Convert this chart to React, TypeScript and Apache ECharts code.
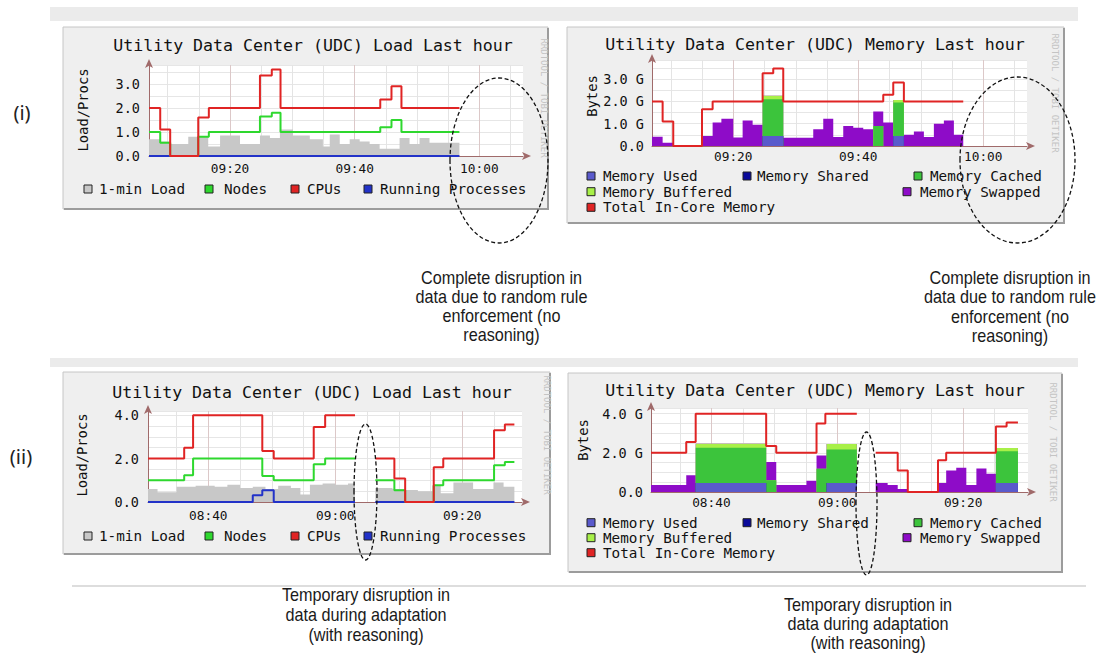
import React, { useEffect, useRef } from 'react';
import * as echarts from 'echarts';

// ================= DATA =================
// (i) Load Last hour — x in minutes after 09:00
const loadTimesI = [7, 8.8, 10.4, 14.9, 16.6, 24.8, 26.7, 28.1, 44.1, 45.9, 47.5, 56.8];
const cpusI = [2.0, 1.1, 0, 1.6, 2.0, 3.35, 3.6, 2.0, 2.35, 2.9, 2.0, 2.0];
const nodesI = [1.0, 0.55, 0, 0.8, 1.0, 1.65, 1.8, 1.0, 1.2, 1.5, 1.0, 1.0];
const procTimesI = [7, 56.8];
const procsI = [0, 0];
const oneMinTimesI = [7, 8.8, 10.4, 13.3, 16.5, 18.4, 21.6, 24.8, 26.4, 28, 30.1, 32.8, 34.9, 36, 37.6, 39.2, 40.8, 42.4, 44, 47.2, 48.8, 50.4, 52, 56.8];
const oneMinI = [0.7, 0.6, 0.5, 0.8, 0.4, 0.85, 0.5, 0.85, 0.75, 1.1, 0.85, 0.7, 0.4, 0.9, 0.5, 0.7, 0.6, 0.5, 0.3, 0.75, 0.5, 0.75, 0.55, 0.55];

// (i) Memory Last hour — x in minutes after 09:00, values in GB
const memTimesI = [7, 8.7, 10.4, 15, 16.7, 18.1, 20, 21.5, 23.1, 24.7, 28, 32.8, 34.4, 36, 37.6, 39.2, 40.8, 42.4, 44, 45.6, 47.3, 48.9, 50.5, 52.1, 53.7, 55.3, 56.8];
const memUsedI = [0, 0, 0, 0, 0, 0, 0, 0, 0, 0.45, 0, 0, 0, 0, 0, 0, 0, 0, 0, 0.45, 0, 0, 0, 0, 0, 0, 0];
const memSharedI = [0, 0, 0, 0, 0, 0, 0, 0, 0, 0, 0, 0, 0, 0, 0, 0, 0, 0, 0, 0, 0, 0, 0, 0, 0, 0, 0];
const memCachedI = [0, 0, 0, 0, 0, 0, 0, 0, 0, 1.65, 0, 0, 0, 0, 0, 0, 0, 0.9, 0, 1.5, 0, 0, 0, 0, 0, 0, 0];
const memBufferedI = [0, 0, 0, 0, 0, 0, 0, 0, 0, 0.15, 0, 0, 0, 0, 0, 0, 0, 0, 0, 0.12, 0, 0, 0, 0, 0, 0, 0];
const memSwappedI = [0.42, 0.15, 0, 0.45, 1.05, 1.22, 0.38, 1.15, 0.95, 0, 0.37, 0.75, 1.22, 0.4, 0.9, 0.82, 0.75, 0.65, 1.05, 0, 0.5, 0.65, 0.4, 1.0, 1.15, 0.5, 0.5];
const totalTimesI = [7, 8.7, 10.4, 15, 16.7, 24.7, 26.4, 28, 44, 45.6, 47.3, 56.8];
const totalI = [2.0, 1.1, 0, 1.65, 2.0, 3.27, 3.48, 2.0, 2.3, 2.85, 2.0, 2.0];

// (ii) Load Last hour — x in minutes after 08:00 (null = missing data)
const loadTimesII = [30.5, 36.2, 37.6, 48.5, 50.3, 56.6, 58.4, 63.1, 63.1, 66.3, 69.3, 71, 75.5, 77, 85, 86.7, 88.2];
const cpusII = [2.0, 2.5, 4.0, 2.35, 2.0, 3.45, 4.0, 4.0, null, 2.0, 1.08, 0, 1.6, 2.0, 3.3, 3.57, 3.57];
const nodesII = [1.0, 1.23, 2.0, 1.2, 1.0, 1.74, 2.0, 2.0, null, 1.0, 0.54, 0, 0.77, 1.0, 1.69, 1.84, 1.84];
const procTimesII = [30.5, 47, 48.5, 50.3, 63.1, 63.1, 66.3, 88.2];
const procsII = [0, 0.31, 0.54, 0, 0, null, 0, 0];
const oneMinTimesII = [30.5, 32, 35, 38, 41, 43, 45, 47, 49, 51, 53, 54.5, 56, 58, 60, 62, 63.1, 63.1, 66.3, 69, 71, 73, 75.3, 76.6, 78.6, 81.7, 84.9, 86.5, 88.2];
const oneMinII = [0.6, 0.45, 0.7, 0.75, 0.7, 0.8, 0.65, 0.7, 0.6, 0.75, 0.65, 0.35, 0.8, 0.85, 0.8, 0.85, 0.85, null, 0.65, 0.6, 0.55, 0.5, 0.75, 0.4, 0.9, 0.6, 0.9, 0.7, 0.7];

// (ii) Memory Last hour — x in minutes after 08:00
const memTimesII = [30.4, 36, 37.5, 48.7, 50.3, 55.1, 56.7, 58.3, 63.1, 63.1, 66.1, 68, 69.6, 71.2, 76, 77.3, 78.9, 80.5, 82.1, 83.7, 85.2, 88.7];
const memUsedII = [0, 0, 0.46, 0, 0, 0, 0, 0.46, 0.46, null, 0, 0, 0, 0, 0, 0, 0, 0, 0, 0, 0.46, 0.46];
const memSharedII = [0, 0, 0, 0, 0, 0, 0, 0, 0, null, 0, 0, 0, 0, 0, 0, 0, 0, 0, 0, 0, 0];
const memCachedII = [0, 0, 1.8, 0.6, 0, 0, 1.19, 1.71, 1.71, null, 0, 0, 0, 0, 0, 0, 0, 0, 0, 0, 1.62, 1.62];
const memBufferedII = [0, 0, 0.21, 0, 0, 0, 0, 0.28, 0.28, null, 0, 0, 0, 0, 0, 0, 0, 0, 0, 0, 0.17, 0.17];
const memSwappedII = [0.36, 0.85, 0, 0.93, 0.36, 0.58, 0.68, 0, 0, null, 0.46, 0.36, 0.15, 0, 0.46, 1.1, 1.24, 0.36, 1.2, 0.93, 0, 0];
const totalTimesII = [30.4, 36, 37.5, 48.7, 50.3, 56.7, 58.1, 63.1, 63.1, 66.1, 69.6, 71.2, 76, 77.3, 85.2, 86.9, 88.7];
const totalII = [2.0, 2.55, 4.0, 2.35, 2.0, 3.5, 4.0, 4.0, null, 2.0, 1.1, 0, 1.62, 2.0, 3.35, 3.55, 3.55];

// Axis ticks / labels
const xLabelsTop = [20, 40, 60];
const xLabelsBottom = [40, 60, 80];
const vGridTop = [10, 15, 20, 25, 30, 35, 40, 45, 50, 55, 60, 65];
const vGridBottom = [35, 40, 45, 50, 55, 60, 65, 70, 75, 80, 85];

// Texts
const TITLE_LOAD = 'Utility Data Center (UDC) Load Last hour';
const TITLE_MEM = 'Utility Data Center (UDC) Memory Last hour';
const NOTE_COMPLETE = 'Complete disruption in\ndata due to random rule\nenforcement (no\nreasoning)';
const NOTE_TEMP = 'Temporary disruption in\ndata during adaptation\n(with reasoning)';

// ================= STYLE / LAYOUT =================
const MONO = '"DejaVu Sans Mono", "Liberation Mono", monospace';
const NOTE_FONT = '"Liberation Sans", Arial, sans-serif';
const C_LOAD = '#C8C8C8';
const C_NODES = '#2ED82E';
const C_CPUS = '#E02424';
const C_PROCS = '#2232C8';
const C_USED = '#5A5ACC';
const C_SHARED = '#0A0A9A';
const C_CACHED = '#3CC43C';
const C_BUFF = '#A8F048';
const C_SWAP = '#8E0CC8';
const C_TOTAL = '#E02424';
const AXIS_COLOR = '#A06A6A';

const GRIDS = [
  { left: 149, top: 65, width: 374, height: 91 },
  { left: 652, top: 60, width: 375, height: 86 },
  { left: 148, top: 411, width: 374, height: 91 },
  { left: 651, top: 408, width: 377, height: 84 },
];
const X_RANGE = [[7, 67], [7, 67], [30.5, 89.4], [30.4, 90.3]];
const Y_MAX = [3.79, 3.86, 4.19, 4.29];
const Y_STEP = [1, 1, 2, 2];
const X_MARGIN = [6, 4, 7, 4];
const Y_MARGIN = [9, 8, 9, 8];

const PANELS = [
  { x: 63, y: 27, w: 485, h: 182 },
  { x: 567, y: 27, w: 497, h: 196 },
  { x: 63, y: 372, w: 487, h: 182 },
  { x: 568, y: 373, w: 494, h: 199 },
];
const TITLES = [
  { x: 313, y: 45, text: TITLE_LOAD },
  { x: 815, y: 44, text: TITLE_MEM },
  { x: 312, y: 392, text: TITLE_LOAD },
  { x: 815, y: 390, text: TITLE_MEM },
];
const YNAMES = [
  { x: 83, y: 110, text: 'Load/Procs' },
  { x: 592, y: 96, text: 'Bytes' },
  { x: 82, y: 455, text: 'Load/Procs' },
  { x: 583, y: 440, text: 'Bytes' },
];
const WATERMARKS = [
  { x: 544, y: 98 },
  { x: 1055, y: 93 },
  { x: 547, y: 435 },
  { x: 1053, y: 442 },
];
const LOAD_LEGEND = [
  { name: '1-min Load', color: C_LOAD, sx: 84, tx: 99 },
  { name: 'Nodes', color: C_NODES, sx: 205, tx: 224 },
  { name: 'CPUs', color: C_CPUS, sx: 291, tx: 307 },
  { name: 'Running Processes', color: C_PROCS, sx: 364, tx: 380 },
];
const LOAD_LEGEND_Y = [189, 536];
const MEM_LEGEND = [
  { name: 'Memory Used', color: C_USED, sx: 587, tx: 603, row: 0 },
  { name: 'Memory Shared', color: C_SHARED, sx: 743, tx: 757, row: 0 },
  { name: 'Memory Cached', color: C_CACHED, sx: 914, tx: 930, row: 0 },
  { name: 'Memory Buffered', color: C_BUFF, sx: 587, tx: 603, row: 1 },
  { name: 'Memory Swapped', color: C_SWAP, sx: 903, tx: 920, row: 1 },
  { name: 'Total In-Core Memory', color: C_TOTAL, sx: 587, tx: 603, row: 2 },
];
const MEM_LEGEND_Y = [[176, 191.7, 207.3], [522.7, 537.7, 552.7]];
const ELLIPSES = [
  { cx: 499, cy: 160.5, rx: 49, ry: 82.5 },
  { cx: 1017.5, cy: 160, rx: 57.5, ry: 83 },
  { cx: 365.5, cy: 492, rx: 11.5, ry: 68 },
  { cx: 866.5, cy: 503.5, rx: 10.5, ry: 71.5 },
];
const NOTES = [
  { x: 501.5, y: 268.8, lh: 19, text: NOTE_COMPLETE },
  { x: 1010, y: 268.5, lh: 19.3, text: NOTE_COMPLETE },
  { x: 366, y: 585, lh: 20, text: NOTE_TEMP },
  { x: 868, y: 595.5, lh: 19, text: NOTE_TEMP },
];

// ================= HELPERS =================
const pairs = (xs: number[], vs: (number | null)[]) =>
  xs.map((x, i) => [x, vs[i] == null ? '-' : vs[i]]);

// running totals of stacked layers (bottom first); null stays null (gap)
function cumulative(layers: (number | null)[][]) {
  const out: (number | null)[][] = [];
  layers.forEach((layer, li) => {
    out.push(layer.map((v, i) => {
      if (v == null) return null;
      const below = li > 0 ? out[li - 1][i] : 0;
      return below == null ? null : Math.round((below + v) * 1000) / 1000;
    }));
  });
  return out;
}

const pad2 = (n: number) => (n < 10 ? '0' : '') + n;
const clock = (baseHour: number) => (v: number) => {
  const t = Math.round(v);
  return pad2(baseHour + Math.floor(t / 60)) + ':' + pad2(t % 60);
};

function stepLine(name: string, idx: number, xs: number[], vs: (number | null)[], color: string, z: number) {
  return {
    name, type: 'line', xAxisIndex: idx, yAxisIndex: idx, step: 'end', symbol: 'none', showSymbol: false,
    data: pairs(xs, vs), connectNulls: false, silent: true, z,
    lineStyle: { color, width: 2 }, itemStyle: { color },
  };
}
function stepArea(name: string, idx: number, xs: number[], vs: (number | null)[], color: string, z: number) {
  return {
    name, type: 'line', xAxisIndex: idx, yAxisIndex: idx, step: 'end', symbol: 'none', showSymbol: false,
    data: pairs(xs, vs), connectNulls: false, silent: true, z,
    lineStyle: { width: 0, color }, itemStyle: { color }, areaStyle: { color, opacity: 1 },
  };
}
function vGrid(idx: number, values: number[], majors: number[]) {
  return {
    type: 'line', xAxisIndex: idx, yAxisIndex: idx, data: [], z: 1, silent: true,
    markLine: {
      silent: true, symbol: ['none', 'none'], label: { show: false }, animation: false,
      lineStyle: { color: '#E4E4E4', width: 1, type: 'solid' },
      data: values.map((v) =>
        majors.indexOf(v) >= 0
          ? { xAxis: v, lineStyle: { color: '#DCC8C8', width: 1, type: 'solid' } }
          : { xAxis: v }
      ),
    },
  };
}
function memorySeries(idx: number, xs: number[], layers: (number | null)[][]) {
  const cum = cumulative(layers);
  const names = ['Memory Used', 'Memory Shared', 'Memory Cached', 'Memory Buffered', 'Memory Swapped'];
  const colors = [C_USED, C_SHARED, C_CACHED, C_BUFF, C_SWAP];
  // higher layers drawn first (behind), lower layers over them
  return names.map((n, li) => stepArea(n, idx, xs, cum[li], colors[li], 10 - li));
}

function buildOption() {
  const grid = GRIDS.map((g) => ({ ...g, show: false, containLabel: false }));
  const xAxis = GRIDS.map((_, i) => ({
    type: 'value', gridIndex: i, min: X_RANGE[i][0], max: X_RANGE[i][1],
    splitLine: { show: false }, axisTick: { show: false },
    axisLine: {
      show: true, onZero: false, symbol: ['none', 'arrow'], symbolSize: [6, 9], symbolOffset: [0, 8],
      lineStyle: { color: AXIS_COLOR, width: 1 },
    },
    axisLabel: {
      customValues: i < 2 ? xLabelsTop : xLabelsBottom,
      formatter: clock(i < 2 ? 9 : 8),
      margin: X_MARGIN[i], fontFamily: MONO, fontSize: 12.8, color: '#111',
    },
  }));
  const yAxis = GRIDS.map((_, i) => ({
    type: 'value', gridIndex: i, min: 0, max: Y_MAX[i], interval: 0.5,
    axisLine: {
      show: true, symbol: ['none', 'arrow'], symbolSize: [6, 9], symbolOffset: [0, 6],
      lineStyle: { color: AXIS_COLOR, width: 1 },
    },
    axisTick: { show: false },
    splitLine: { show: true, lineStyle: { color: '#E6E6E6', width: 1 } },
    axisLabel: {
      showMaxLabel: false, margin: Y_MARGIN[i], fontFamily: MONO, fontSize: 13.5, color: '#111',
      formatter: (v: number) => {
        const k = v / Y_STEP[i];
        if (Math.abs(k - Math.round(k)) > 1e-6) return '';
        if (i % 2 === 1 && v > 0) return v.toFixed(1) + ' G';
        return v.toFixed(1);
      },
    },
  }));

  const series: any[] = [
    vGrid(0, vGridTop, xLabelsTop),
    vGrid(1, vGridTop, xLabelsTop),
    vGrid(2, vGridBottom, xLabelsBottom),
    vGrid(3, vGridBottom, xLabelsBottom),
    // (i) load
    stepArea('1-min Load', 0, oneMinTimesI, oneMinI, C_LOAD, 10),
    stepLine('Running Processes', 0, procTimesI, procsI, C_PROCS, 11),
    stepLine('Nodes', 0, loadTimesI, nodesI, C_NODES, 12),
    stepLine('CPUs', 0, loadTimesI, cpusI, C_CPUS, 13),
    // (i) memory
    ...memorySeries(1, memTimesI, [memUsedI, memSharedI, memCachedI, memBufferedI, memSwappedI]),
    stepLine('Total In-Core Memory', 1, totalTimesI, totalI, C_TOTAL, 13),
    // (ii) load
    stepArea('1-min Load', 2, oneMinTimesII, oneMinII, C_LOAD, 10),
    stepLine('Running Processes', 2, procTimesII, procsII, C_PROCS, 11),
    stepLine('Nodes', 2, loadTimesII, nodesII, C_NODES, 12),
    stepLine('CPUs', 2, loadTimesII, cpusII, C_CPUS, 13),
    // (ii) memory
    ...memorySeries(3, memTimesII, [memUsedII, memSharedII, memCachedII, memBufferedII, memSwappedII]),
    stepLine('Total In-Core Memory', 3, totalTimesII, totalII, C_TOTAL, 13),
  ];

  const g: any[] = [];
  // separator bands
  g.push({ type: 'rect', z: -20, shape: { x: 50, y: 7, width: 1028, height: 14 }, style: { fill: '#EBEBEB' } });
  g.push({ type: 'rect', z: -20, shape: { x: 50, y: 358, width: 1028, height: 9 }, style: { fill: '#EBEBEB' } });
  g.push({ type: 'line', z: -20, shape: { x1: 72, y1: 586, x2: 1086, y2: 586 }, style: { stroke: '#DDDDDD', lineWidth: 2 } });
  // panels
  PANELS.forEach((p) => {
    g.push({ type: 'rect', z: -12, shape: { x: p.x, y: p.y, width: p.w, height: p.h }, style: { fill: '#EFEFEF', stroke: '#C6C6C6', lineWidth: 1 } });
    g.push({ type: 'polyline', z: -11, shape: { points: [[p.x + 1, p.y + p.h], [p.x + p.w, p.y + p.h], [p.x + p.w, p.y + 1]] }, style: { fill: 'none', stroke: '#9C9C9C', lineWidth: 2 } });
  });
  // white canvases
  GRIDS.forEach((gr) => {
    g.push({ type: 'rect', z: -5, shape: { x: gr.left, y: gr.top, width: gr.width, height: gr.height }, style: { fill: '#FFFFFF' } });
  });
  // titles
  TITLES.forEach((t) => {
    g.push({ type: 'text', z: 20, x: t.x, y: t.y, style: { text: t.text, font: `16.6px ${MONO}`, fill: '#111', align: 'center', verticalAlign: 'middle' } });
  });
  // y-axis names
  YNAMES.forEach((t) => {
    g.push({ type: 'text', z: 20, x: t.x, y: t.y, rotation: Math.PI / 2, style: { text: t.text, font: `13.8px ${MONO}`, fill: '#111', align: 'center', verticalAlign: 'middle' } });
  });
  // watermarks
  WATERMARKS.forEach((w) => {
    g.push({ type: 'text', z: 20, x: w.x, y: w.y, rotation: -Math.PI / 2, style: { text: 'RRDTOOL / TOBI OETIKER', font: `9px ${MONO}`, fill: '#C4C4C4', align: 'center', verticalAlign: 'middle' } });
  });
  // load legends
  LOAD_LEGEND_Y.forEach((ly) => {
    LOAD_LEGEND.forEach((it) => {
      g.push({ type: 'rect', z: 20, shape: { x: it.sx, y: ly - 4, width: 8, height: 8 }, style: { fill: it.color, stroke: '#222', lineWidth: 1 } });
      g.push({ type: 'text', z: 20, x: it.tx, y: ly, style: { text: it.name, font: `14.3px ${MONO}`, fill: '#111', align: 'left', verticalAlign: 'middle' } });
    });
  });
  // memory legends
  MEM_LEGEND_Y.forEach((rows) => {
    MEM_LEGEND.forEach((it) => {
      const ly = rows[it.row];
      g.push({ type: 'rect', z: 20, shape: { x: it.sx, y: ly - 4, width: 8, height: 8 }, style: { fill: it.color, stroke: '#222', lineWidth: 1 } });
      g.push({ type: 'text', z: 20, x: it.tx, y: ly, style: { text: it.name, font: `14.3px ${MONO}`, fill: '#111', align: 'left', verticalAlign: 'middle' } });
    });
  });
  // (i) / (ii)
  g.push({ type: 'text', z: 20, x: 22, y: 112, style: { text: '(i)', font: '20px "Noto Sans", "Open Sans", sans-serif', fill: '#222', align: 'center', verticalAlign: 'middle' } });
  g.push({ type: 'text', z: 20, x: 21, y: 456, style: { text: '(ii)', font: '20px "Noto Sans", "Open Sans", sans-serif', fill: '#222', align: 'center', verticalAlign: 'middle' } });
  // ellipses
  ELLIPSES.forEach((e) => {
    g.push({ type: 'ellipse', z: 100, shape: e, style: { fill: 'none', stroke: '#111', lineWidth: 1.3, lineDash: [4, 2.5] } });
  });
  // notes (condensed look via horizontal scaling)
  NOTES.forEach((n) => {
    g.push({ type: 'text', z: 100, x: n.x, y: n.y, scaleX: 0.9, style: { text: n.text, font: `18px ${NOTE_FONT}`, fill: '#1A1A1A', align: 'center', verticalAlign: 'top', lineHeight: n.lh } });
  });

  return {
    animation: false,
    backgroundColor: '#FFFFFF',
    grid, xAxis, yAxis, series,
    graphic: { elements: g },
  };
}

export default function App() {
  const ref = useRef<HTMLDivElement>(null);
  useEffect(() => {
    if (!ref.current) return;
    const chart = echarts.init(ref.current, null, { renderer: 'svg' });
    chart.setOption(buildOption() as any);
    return () => chart.dispose();
  }, []);
  return (
    <div
      ref={ref}
      style={{ position: 'fixed', left: 0, top: 0, width: 1100, height: 654, background: '#fff' }}
    />
  );
}
